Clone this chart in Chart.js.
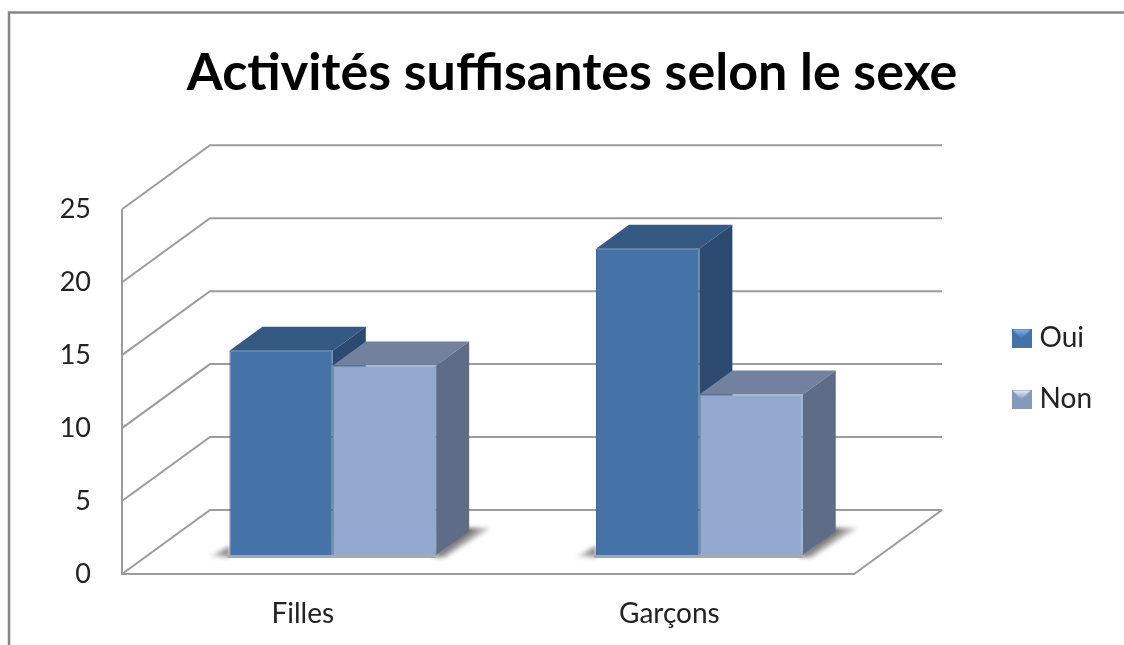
<!DOCTYPE html>
<html lang="fr">
<head>
<meta charset="utf-8">
<title>Activités suffisantes selon le sexe</title>
<script src="https://cdn.jsdelivr.net/npm/chart.js@4"></script>
<style>
  html, body { margin: 0; padding: 0; background: #fff; }
  canvas { display: block; }
</style>
</head>
<body>
<canvas id="chart" width="1124" height="645"></canvas>
<script>
/* ── DATA ───────────────────────────────────────────────────── */
const categories = ['Filles', 'Garçons'];
const seriesNames = ['Oui', 'Non'];
const oui = [14, 21];
const non = [13, 11];

/* ── 3D LOOK ────────────────────────────────────────────────── */
const WALL_DX = 88;      // depth of the chart box
const WALL_DY = -64;
const BAR_DX = 33;       // depth of one bar
const BAR_DY = -24;
const FLOOR_END = 1.422; // x value where the front floor edge stops
const LEGEND_SHIFT_X = -22;
const LEGEND_SHIFT_Y = 92;
const GRID_COLOR = '#9c9c9c';
const FACES = [
  { front: '#4572a7', edge: '#3f6898', top: '#345a84', side: '#2c4a70' },
  { front: '#93a9d0', edge: '#8098c2', top: '#71819e', side: '#5e6c88' }
];

function poly(ctx, pts, fill) {
  ctx.beginPath();
  pts.forEach((p, i) => i ? ctx.lineTo(p[0], p[1]) : ctx.moveTo(p[0], p[1]));
  ctx.closePath();
  ctx.fillStyle = fill;
  ctx.fill();
}

function legendIcon(main, light) {
  const c = document.createElement('canvas');
  c.width = 20; c.height = 19;
  const g = c.getContext('2d');
  g.fillStyle = main;
  g.fillRect(0, 0, 20, 19);
  const grad = g.createLinearGradient(0, 1, 0, 10);
  grad.addColorStop(0, light);
  grad.addColorStop(1, main);
  poly(g, [[1, 1], [19, 1], [10, 10]], grad);
  return c;
}
const legendIcons = [legendIcon('#4372a8', '#7fb4e6'), legendIcon('#8599bd', '#e4ecf8')];

/* ── PLUGIN: FRAME, WALLS, FLOOR, SHADOWS, BAR SIDES ────────── */
const boxPlugin = {
  id: 'box3d',
  afterLayout(chart) {
    chart.legend.left += LEGEND_SHIFT_X;
    chart.legend.top += LEGEND_SHIFT_Y;
  },
  beforeDraw(chart) {
    const { ctx, width, height } = chart;
    ctx.save();
    ctx.fillStyle = '#fff';
    ctx.fillRect(0, 0, width, height);
    ctx.strokeStyle = '#868686';
    ctx.lineWidth = 2.5;
    ctx.beginPath();
    ctx.moveTo(9, height);
    ctx.lineTo(9, 12.5);
    ctx.lineTo(width, 12.5);
    ctx.stroke();
    ctx.restore();
  },
  beforeDatasetsDraw(chart) {
    const { ctx, scales: { x, y } } = chart;
    const left = chart.chartArea.left;
    const right = x.getPixelForValue(FLOOR_END);
    ctx.save();
    ctx.strokeStyle = GRID_COLOR;
    ctx.lineWidth = 2;

    // gridlines on the side wall and the back wall
    y.ticks.forEach(t => {
      const py = y.getPixelForValue(t.value);
      ctx.beginPath();
      ctx.moveTo(left, py);
      ctx.lineTo(left + WALL_DX, py + WALL_DY);
      ctx.lineTo(right + WALL_DX, py + WALL_DY);
      ctx.stroke();
    });

    // front axis line, floor edge, vertical axis
    const y0 = y.getPixelForValue(0);
    ctx.beginPath();
    ctx.moveTo(left, y.getPixelForValue(25));
    ctx.lineTo(left, y0);
    ctx.lineTo(right, y0);
    ctx.lineTo(right + WALL_DX, y0 + WALL_DY);
    ctx.stroke();

    // floor shadows around each bar group, soft edges
    const first = chart.getDatasetMeta(0);
    const last = chart.getDatasetMeta(1);
    categories.forEach((c, i) => {
      const a = first.data[i], b = last.data[i];
      const l = a.x - a.width / 2, r = b.x + b.width / 2, by = b.base;
      ctx.filter = 'blur(2px)';
      const gl = ctx.createLinearGradient(l - 22, 0, l, 0);
      gl.addColorStop(0, 'rgba(110,110,110,0)');
      gl.addColorStop(1, 'rgba(110,110,110,0.9)');
      poly(ctx, [[l - 22, by + 2], [l, by - 9], [l, by + 2]], gl);
      const gr = ctx.createLinearGradient(r + 16, by - 12, r + 26, by + 2);
      gr.addColorStop(0, 'rgba(95,95,95,0.95)');
      gr.addColorStop(1, 'rgba(170,170,170,0)');
      poly(ctx, [[r - 4, by + 2], [r + BAR_DX - 4, by + BAR_DY - 3], [r + BAR_DX + 22, by + BAR_DY - 3], [r + 8, by + 3]], gr);
      ctx.filter = 'none';
      poly(ctx, [[l - 2, by], [r, by], [r, by + 3], [l - 2, by + 3]], '#a8a8a8');
    });

    // top and side faces, first series first so the second one covers it
    [first, last].forEach((meta, s) => {
      const f = FACES[s];
      meta.data.forEach(el => {
        const bl = el.x - el.width / 2, br = el.x + el.width / 2;
        poly(ctx, [[bl, el.y], [bl + BAR_DX, el.y + BAR_DY], [br + BAR_DX, el.y + BAR_DY], [br, el.y]], f.top);
        poly(ctx, [[br, el.y], [br + BAR_DX, el.y + BAR_DY], [br + BAR_DX, el.base + BAR_DY], [br, el.base]], f.side);
      });
    });
    ctx.restore();
  }
};

/* ── CHART ──────────────────────────────────────────────────── */
function pairs(values) {
  return values.map((v, i) => ({ x: i, y: v }));
}

new Chart(document.getElementById('chart').getContext('2d'), {
  type: 'bar',
  data: {
    datasets: [
      { label: seriesNames[0], data: pairs(oui), yAxisID: 'yBars', backgroundColor: FACES[0].front, borderColor: FACES[0].edge, borderWidth: 1 },
      { label: seriesNames[1], data: pairs(non), yAxisID: 'yBars', backgroundColor: FACES[1].front, borderColor: FACES[1].edge, borderWidth: 1 }
    ]
  },
  options: {
    responsive: false,
    animation: false,
    categoryPercentage: 0.564,
    barPercentage: 1,
    layout: { padding: { left: 20, top: 0, right: 0, bottom: 0 } },
    plugins: {
      tooltip: { enabled: false },
      title: {
        display: true,
        text: 'Activités suffisantes selon le sexe',
        color: '#000',
        font: { family: 'Lato', size: 52, weight: 'bold', lineHeight: 1.2 },
        padding: { top: 42, bottom: 41 }
      },
      legend: {
        position: 'right',
        labels: {
          usePointStyle: true,
          pointStyleWidth: 8,
          padding: 33,
          color: '#222',
          font: { family: 'Lato', size: 28 },
          generateLabels(chart) {
            return seriesNames.map((name, i) => ({
              text: name,
              datasetIndex: i,
              pointStyle: legendIcons[i],
              fontColor: '#222',
              lineWidth: 0
            }));
          }
        }
      }
    },
    scales: {
      x: {
        type: 'linear',
        offset: false,
        min: -0.575,
        max: 1.838,
        grid: { display: false },
        border: { display: false },
        ticks: {
          stepSize: 1,
          includeBounds: false,
          autoSkip: false,
          maxRotation: 0,
          padding: 15,
          labelOffset: -30,
          color: '#222',
          font: { family: 'Lato', size: 28 },
          callback: v => categories[v]
        },
        afterFit(s) { s.height = 71; }
      },
      y: {
        min: 0,
        max: 29.38,
        grid: { display: false },
        border: { display: false },
        ticks: {
          stepSize: 5,
          includeBounds: false,
          padding: 23,
          color: '#222',
          font: { family: 'Lato', size: 27 }
        },
        afterFit(s) { s.width = 102; }
      },
      yBars: {
        display: false,
        position: 'left',
        min: -1.3,
        max: 28.08
      }
    }
  },
  plugins: [boxPlugin]
});
</script>
</body>
</html>
